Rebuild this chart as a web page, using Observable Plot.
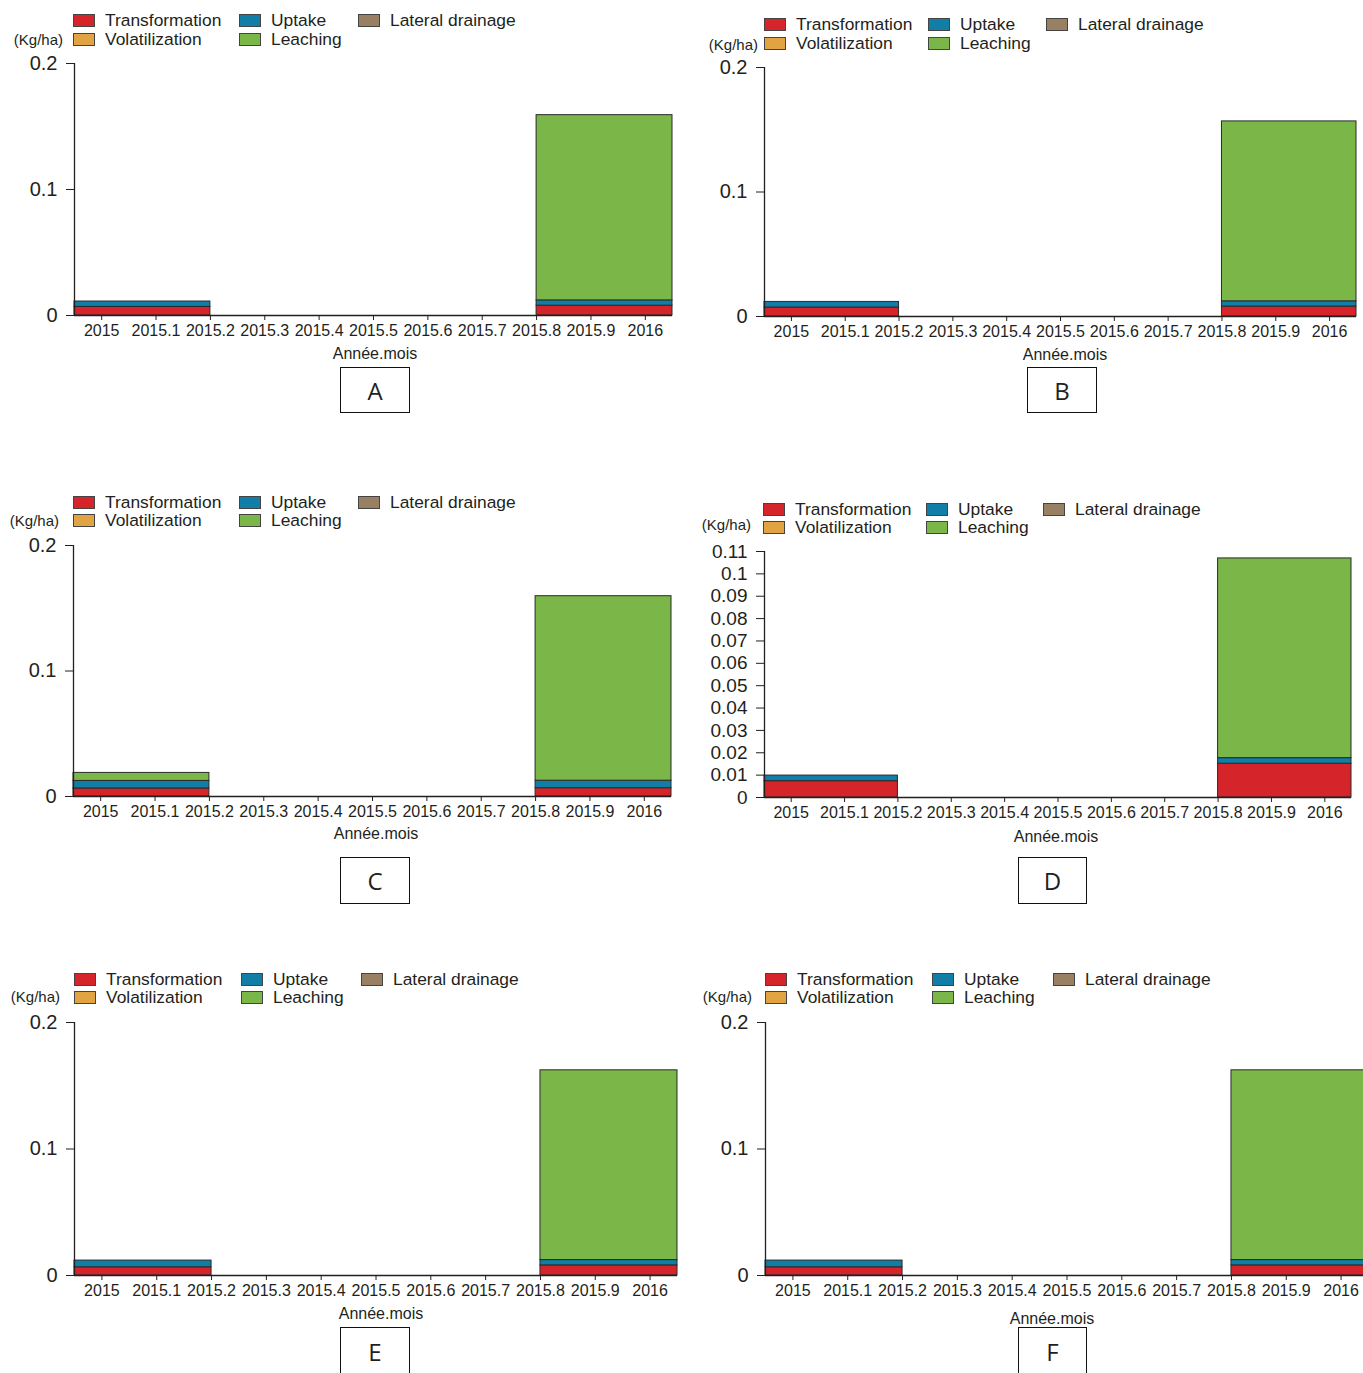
<!DOCTYPE html>
<html><head><meta charset="utf-8">
<script src="https://cdn.jsdelivr.net/npm/d3@7"></script>
<script src="https://cdn.jsdelivr.net/npm/@observablehq/plot@0.6"></script>
<style>
html,body{margin:0;padding:0;background:#fff;width:1363px;height:1373px;overflow:hidden;position:relative;font-family:"Liberation Sans",Arial,sans-serif;color:#231f20}
.abs{position:absolute;white-space:nowrap}
.leg{font-size:17.4px;line-height:17px}
.sw{position:absolute;width:22px;height:13px;border:1px solid #444;box-sizing:border-box}
.unit{font-size:15px}
.xl{font-size:16px;transform:translateX(-50%)}
.box{border:1.5px solid #111;box-sizing:border-box;font-size:24px;display:flex;align-items:center;justify-content:center;font-family:"Open Sans",sans-serif}
</style></head><body>
<script>
// ---- data ----
const panelNames = ["A","B","C","D","E","F"];
const components = ["Transformation","Volatilization","Uptake","Leaching","Lateral drainage"];
const componentColors = ["#d6242b","#e2a443","#107ea6","#7ab648","#9a8063"];
const binStart = [2014.95, 2015.8];
const binEnd = [2015.2, 2016.05];
// values per panel, [bin1, bin2]
const transformation = [[0.0068,0.0078],[0.0072,0.0080],[0.0064,0.0066],[0.0073,0.0151],[0.0065,0.0080],[0.0065,0.0080]];
const volatilization = [[0,0],[0,0],[0,0],[0,0],[0,0],[0,0]];
const uptake = [[0.0043,0.0042],[0.0045,0.0042],[0.0060,0.0060],[0.0025,0.0025],[0.0053,0.0042],[0.0053,0.0042]];
const leaching = [[0,0.147],[0,0.1445],[0.0064,0.147],[0,0.0893],[0,0.150],[0,0.150]];
const lateralDrainage = [[0,0],[0,0],[0,0],[0,0],[0,0],[0,0]];
const xTicks = [2015,2015.1,2015.2,2015.3,2015.4,2015.5,2015.6,2015.7,2015.8,2015.9,2016];
const xTickLabels = ["2015","2015.1","2015.2","2015.3","2015.4","2015.5","2015.6","2015.7","2015.8","2015.9","2016"];
const yMaxes = [0.2,0.2,0.2,0.11,0.2,0.2];
const yTicksStd = [0,0.1,0.2];
const yTicksD = [0,0.01,0.02,0.03,0.04,0.05,0.06,0.07,0.08,0.09,0.1,0.11];
const yTickLabelsStd = ["0","0.1","0.2"];
const yTickLabelsD = ["0","0.01","0.02","0.03","0.04","0.05","0.06","0.07","0.08","0.09","0.1","0.11"];
const xLabel = "Année.mois";
const unitLabel = "(Kg/ha)";

// ---- layout (pixel geometry) ----
const geom = [
 {L:74,R:672,T:63,B:315, leg:[73,239,358], r1:21, r2:40, unitR:63, unitY:40, xlX:375, xlY:355, box:[340,367,70,46]},
 {L:764,R:1356,T:67,B:316, leg:[764,928,1046], r1:25, r2:44, unitR:758, unitY:45, xlX:1065, xlY:356, box:[1027,367,70,46]},
 {L:73,R:671,T:545,B:796, leg:[73,239,358], r1:503, r2:521, unitR:59, unitY:521, xlX:376, xlY:835, box:[340,857,70,47]},
 {L:764,R:1351,T:551,B:797, leg:[763,926,1043], r1:510, r2:528, unitR:751, unitY:525, xlX:1056, xlY:838, box:[1018,857,69,47]},
 {L:74,R:677,T:1022,B:1275, leg:[74,241,361], r1:980, r2:998, unitR:60, unitY:997, xlX:381, xlY:1315, box:[340,1327,70,48]},
 {L:765,R:1368,T:1022,B:1275, leg:[765,932,1053], r1:980, r2:998, unitR:752, unitY:997, xlX:1052, xlY:1320, box:[1018,1327,69,48]}
];

function el(cls, style, html){const d=document.createElement("div");d.className=cls;Object.assign(d.style,style);if(html!=null)d.innerHTML=html;document.body.appendChild(d);return d;}

panelNames.forEach((name,p)=>{
  const g = geom[p];
  const series = [transformation[p],volatilization[p],uptake[p],leaching[p],lateralDrainage[p]];
  const rows = [];
  binStart.forEach((s,b)=>{
    let acc = 0;
    [0,2,3,1,4].forEach(ci=>{
      const v = series[ci][b];
      if (v>0){ rows.push({x1:s,x2:binEnd[b],y1:acc,y2:acc+v,comp:components[ci]}); acc+=v; }
    });
  });
  const yMax = yMaxes[p];
  const yT = p===3 ? yTicksD : yTicksStd;
  const yL = p===3 ? yTickLabelsD : yTickLabelsStd;
  const mL=74, mT=15, mB=32, mR=10;
  const chart = Plot.plot({
    width:(g.R-g.L)+mL+mR, height:(g.B-g.T)+mT+mB,
    marginLeft:mL, marginTop:mT, marginBottom:mB, marginRight:mR,
    style:{fontFamily:'"Liberation Sans",Arial,sans-serif',color:"#231f20",background:"transparent",overflow:"visible"},
    x:{domain:[binStart[0],binEnd[1]]},
    y:{domain:[0,yMax]},
    color:{domain:components,range:componentColors},
    marks:[
      Plot.rect(rows,{x1:"x1",x2:"x2",y1:"y1",y2:"y2",fill:"comp",stroke:"#2a2a2a",strokeWidth:1}),
      Plot.ruleX([binStart[0]],{y1:0,y2:yMax,stroke:"#231f20",strokeWidth:1.3}),
      Plot.ruleY([0],{x1:binStart[0],x2:binEnd[1],stroke:"#231f20",strokeWidth:1.3}),
      Plot.axisY({ticks:yT,tickSize:8,tickPadding:9,tickFormat:(d,i)=>yL[i],fontSize:p===3?19:20,label:null,stroke:"#231f20"}),
      Plot.axisX({ticks:xTicks,tickSize:5,tickPadding:4,tickFormat:(d,i)=>xTickLabels[i],fontSize:16,label:null,stroke:"#231f20"})
    ]
  });
  chart.style.position="absolute";
  chart.style.left=(g.L-mL)+"px";
  chart.style.top=(g.T-mT)+"px";
  document.body.appendChild(chart);

  // legend (HTML)
  const legItems = [[0,0,0],[2,1,0],[4,2,0],[1,0,1],[3,1,1]];
  legItems.forEach(([ci,col,row])=>{
    const x = g.leg[col], y = row===0?g.r1:g.r2;
    el("sw",{left:x+"px",top:(y-7)+"px",background:componentColors[ci]});
    el("abs leg",{left:(x+32)+"px",top:(y-9)+"px"},components[ci]);
  });
  el("abs unit",{left:(g.unitR-60)+"px",width:"60px",textAlign:"right",top:(g.unitY-9)+"px"},unitLabel);
  el("abs xl",{left:g.xlX+"px",top:(g.xlY-10)+"px"},xLabel);
  el("abs box",{left:g.box[0]+"px",top:g.box[1]+"px",width:g.box[2]+"px",height:g.box[3]+"px"},name);
});
</script>
</body></html>
